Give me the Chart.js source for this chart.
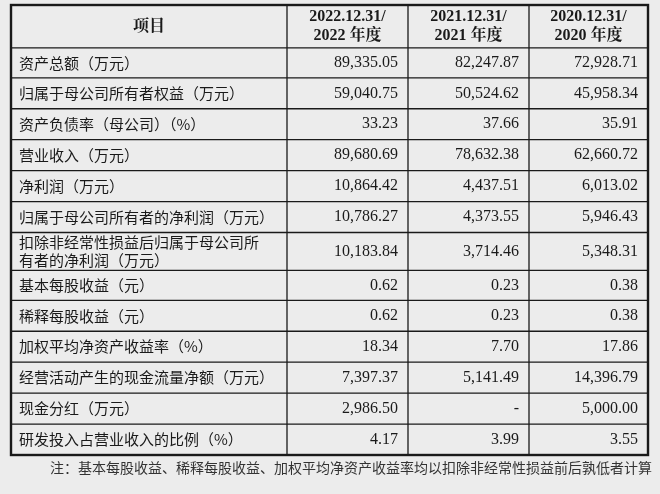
<!DOCTYPE html>
<html><head><meta charset="utf-8">
<script src="https://cdn.jsdelivr.net/npm/chart.js@4/dist/chart.umd.min.js"></script>
<style>html,body{margin:0;padding:0;background:#ececec}canvas{display:block}</style>
</head><body>
<div style="width:660px;height:494px"><canvas id="c"></canvas></div>
<script>
const headers = ["项目", "2022.12.31/\n2022 年度", "2021.12.31/\n2021 年度", "2020.12.31/\n2020 年度"];
const items = ["资产总额（万元）","归属于母公司所有者权益（万元）","资产负债率（母公司）（%）","营业收入（万元）","净利润（万元）","归属于母公司所有者的净利润（万元）","扣除非经常性损益后归属于母公司所\n有者的净利润（万元）","基本每股收益（元）","稀释每股收益（元）","加权平均净资产收益率（%）","经营活动产生的现金流量净额（万元）","现金分红（万元）","研发投入占营业收入的比例（%）"];
const v2022 = ["89,335.05","59,040.75","33.23","89,680.69","10,864.42","10,786.27","10,183.84","0.62","0.62","18.34","7,397.37","2,986.50","4.17"];
const v2021 = ["82,247.87","50,524.62","37.66","78,632.38","4,437.51","4,373.55","3,714.46","0.23","0.23","7.70","5,141.49","-","3.99"];
const v2020 = ["72,928.71","45,958.34","35.91","62,660.72","6,013.02","5,946.43","5,348.31","0.38","0.38","17.86","14,396.79","5,000.00","3.55"];
const note = "注：基本每股收益、稀释每股收益、加权平均净资产收益率均以扣除非经常性损益前后孰低者计算";
const colWidths = [276,121,121,119];
const rowHeights = [43,30,31,31,31,31,31,38,30,31,31,31,31,31];

const colEdges=[0];colWidths.forEach(w=>colEdges.push(colEdges[colEdges.length-1]+w));
const rowEdges=[0];rowHeights.forEach(h=>rowEdges.push(rowEdges[rowEdges.length-1]+h));
const cols=[v2022,v2021,v2020];

const tablePlugin={id:'table',
 beforeDraw(ch){const c=ch.ctx;c.save();c.fillStyle='#ececec';c.fillRect(0,0,ch.width,ch.height);c.restore();},
 afterDraw(ch){
  const c=ch.ctx,x=ch.scales.x,y=ch.scales.y;c.save();
  const X=i=>x.getPixelForValue(colEdges[i]),Y=i=>y.getPixelForValue(rowEdges[i]);
  c.strokeStyle='#1a1a1a';
  // inner lines
  c.lineWidth=1.3;
  for(let i=1;i<rowEdges.length-1;i++){c.beginPath();c.moveTo(X(0),Y(i));c.lineTo(X(4),Y(i));c.stroke();}
  for(let j=1;j<colEdges.length-1;j++){c.beginPath();c.moveTo(X(j),Y(0));c.lineTo(X(j),Y(rowEdges.length-1));c.stroke();}
  c.lineWidth=2.4;c.strokeRect(X(0),Y(0),X(4)-X(0),Y(rowEdges.length-1)-Y(0));
  c.fillStyle='#1a1a1a';c.textBaseline='middle';
  // header
  c.font='bold 16px "Liberation Serif","Noto Serif CJK SC","Noto Sans CJK SC"';
  headers.forEach((h,j)=>{const lines=h.split('\n');const cx=(X(j)+X(j+1))/2,cy=(Y(0)+Y(1))/2;
    lines.forEach((l,k)=>{c.textAlign='center';c.fillText(l,cx,cy+(k-(lines.length-1)/2)*19);});});
  items.forEach((t,i)=>{const cy=(Y(i+1)+Y(i+2))/2;const lines=t.split('\n');
    c.font='15px "Noto Sans CJK SC"';c.textAlign='left';
    lines.forEach((l,k)=>c.fillText(l,X(0)+8,cy+(k-(lines.length-1)/2)*18));
    c.font='16px "Liberation Serif"';c.textAlign='right';
    cols.forEach((arr,j)=>c.fillText(arr[i],X(j+2)-10,cy));});
  c.font='14px "Noto Sans CJK SC"';c.textAlign='left';c.fillStyle='#333';
  c.fillText(note,50,Y(rowEdges.length-1)+13);
  c.restore();}
};
new Chart(document.getElementById('c'),{type:'scatter',
 data:{datasets:[{data:[]}]},
 options:{responsive:true,maintainAspectRatio:false,animation:false,
  layout:{padding:{left:11,top:5,right:12,bottom:39}},
  plugins:{legend:{display:false},tooltip:{enabled:false}},
  scales:{x:{type:'linear',display:false,min:0,max:colEdges[colEdges.length-1]},
          y:{type:'linear',display:false,reverse:true,min:0,max:rowEdges[rowEdges.length-1]}}},
 plugins:[tablePlugin]});
</script></body></html>
